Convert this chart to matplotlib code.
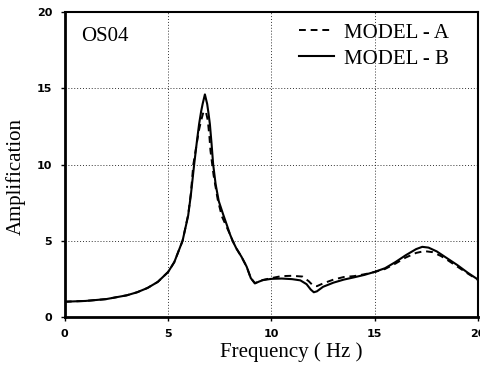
import matplotlib
matplotlib.use("Agg")
from matplotlib import pyplot as plt

# Model B (solid)
freq_b = [0, 1, 2, 3, 3.5, 4, 4.5, 5, 5.3, 5.5, 5.7, 5.97, 6.1, 6.26, 6.4, 6.5, 6.6, 6.67,
          6.78, 6.89, 6.95, 7.02, 7.1, 7.18, 7.3, 7.45, 7.67, 7.85, 8.0, 8.12, 8.3, 8.55,
          8.8, 9.0, 9.2, 9.4, 9.6, 10.0, 10.5, 11.0, 11.4, 11.7, 11.9, 12.05, 12.2,
          12.5, 13.0, 13.5, 14.0, 14.5, 15.0, 15.5, 16.0, 16.5, 17.0, 17.3, 17.6, 18.0,
          18.5, 19.0, 19.5, 20.0]
amp_b = [1.0, 1.05, 1.17, 1.42, 1.62, 1.9, 2.3, 2.95, 3.6, 4.3, 5.0, 6.65, 8.0, 10.0, 11.6,
         12.66, 13.5, 13.97, 14.6, 13.97, 13.4, 12.66, 11.4, 10.0, 8.7, 7.6, 6.7, 6.0,
         5.4, 5.0, 4.5, 3.95, 3.3, 2.55, 2.2, 2.32, 2.42, 2.5, 2.52, 2.48, 2.4, 2.15,
         1.8, 1.62, 1.68, 1.98, 2.25, 2.45, 2.6, 2.76, 2.96, 3.2, 3.6, 4.05, 4.45, 4.6,
         4.55, 4.3, 3.85, 3.4, 2.9, 2.45]

# Model A (dashed)
freq_a = [0, 1, 2, 3, 3.5, 4, 4.5, 5, 5.3, 5.5, 5.7, 5.97, 6.1, 6.22, 6.4, 6.5, 6.6, 6.7,
          6.82, 6.92, 7.0, 7.05, 7.2, 7.4, 7.6, 7.8, 8.0, 8.12, 8.3, 8.55, 8.8, 9.0,
          9.2, 9.5, 10.0, 10.3, 10.5, 11.0, 11.5, 11.8, 12.0, 12.2, 12.5, 13.0, 13.5, 14.0,
          14.5, 15.0, 15.5, 16.0, 16.5, 17.0, 17.4, 17.8, 18.2, 18.5, 19.0, 19.5, 20.0]
amp_a = [1.0, 1.05, 1.17, 1.42, 1.62, 1.9, 2.3, 2.95, 3.6, 4.3, 5.0, 6.7, 8.1, 10.0, 11.5,
         12.3, 12.9, 13.4, 13.5, 12.9, 11.8, 10.9, 9.3, 7.7, 6.6, 6.0, 5.4, 5.0, 4.5,
         3.95, 3.3, 2.55, 2.22, 2.4, 2.55, 2.63, 2.68, 2.7, 2.65, 2.35, 2.08, 2.02,
         2.2, 2.45, 2.62, 2.68, 2.8, 2.95, 3.15, 3.5, 3.9, 4.2, 4.32, 4.25, 4.0, 3.75,
         3.3, 2.85, 2.42]

x_ticks = [0, 5, 10, 15, 20]
y_ticks = [0, 5, 10, 15, 20]

serif = "Liberation Serif"

fig = plt.figure(figsize=(4.8, 3.66), dpi=100)
ax = fig.add_axes([0.135, 0.134, 0.861, 0.833])

ax.plot(freq_a, amp_a, color="black", linestyle=(0, (3.5, 2.5)), linewidth=1.4, label="MODEL - A")
ax.plot(freq_b, amp_b, color="black", linestyle="-", linewidth=1.5, label="MODEL - B")

ax.set_xlim(0, 20)
ax.set_ylim(0, 20)
ax.set_xticks(x_ticks)
ax.set_yticks(y_ticks)
ax.grid(True, color="black", linestyle=(0, (1, 2)), linewidth=0.7, alpha=0.8)

for lab in ax.get_xticklabels() + ax.get_yticklabels():
    lab.set_fontweight("bold")
    lab.set_fontsize(8)
ax.tick_params(axis="both", direction="out", length=3, width=1, pad=6)

ax.spines["left"].set_linewidth(2)
ax.spines["bottom"].set_linewidth(2)
ax.spines["top"].set_linewidth(1.5)
ax.spines["right"].set_linewidth(1.5)

ax.set_xlabel("Frequency ( Hz )", fontfamily=serif, fontsize=15, labelpad=2)
ax.set_ylabel("Amplification", fontfamily=serif, fontsize=15, labelpad=8)
ax.xaxis.label.set_x(0.547)
ax.yaxis.label.set_y(0.462)

ax.text(1.95, 18.4, "OS04", fontfamily=serif, fontsize=15, ha="center", va="center")

ax.legend(loc="upper right", bbox_to_anchor=(0.944, 0.984), frameon=False,
          prop={"family": serif, "size": 15},
          handlelength=1.7, handletextpad=0.45, labelspacing=0.3,
          borderaxespad=0.1, borderpad=0.2)

fig.savefig("out.png", dpi=100)
